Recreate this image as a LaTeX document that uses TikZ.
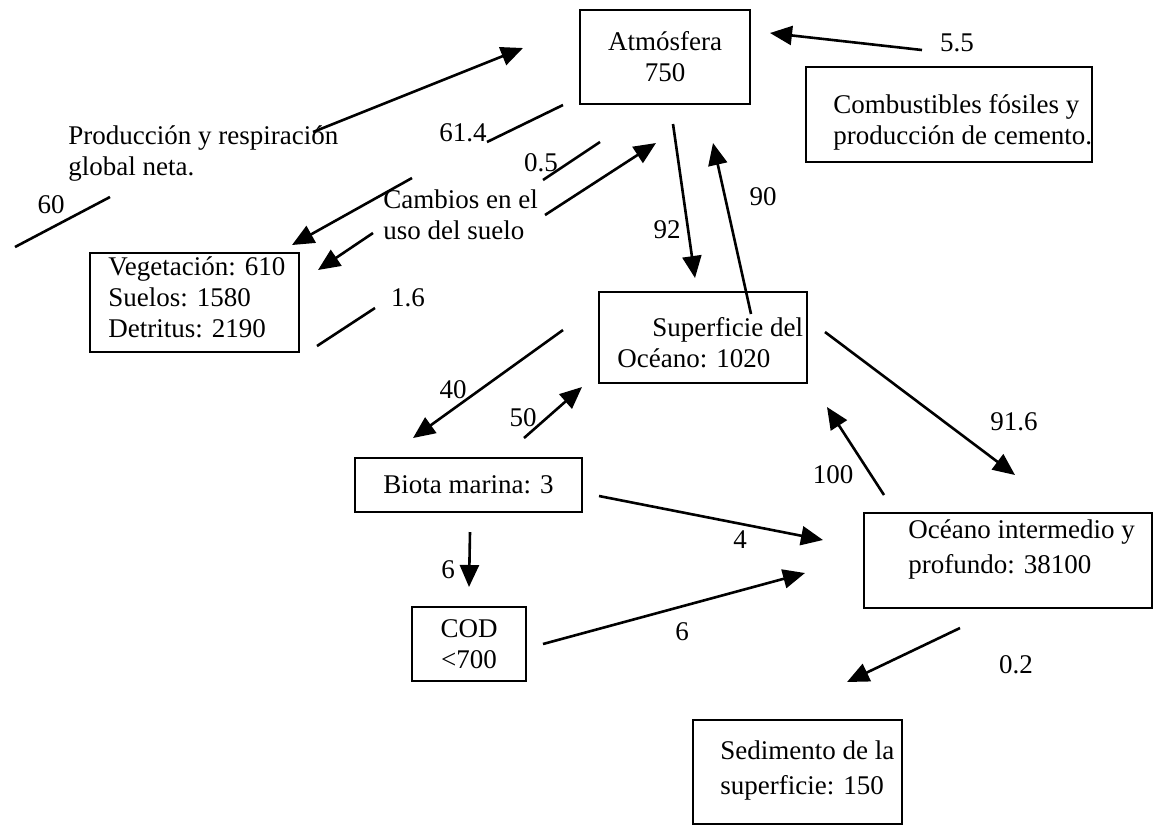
\documentclass[tikz,border=0pt]{standalone}
\usepackage{fontspec}
\setmainfont{Liberation Serif}
\usetikzlibrary{arrows.meta}

\begin{document}
\begin{tikzpicture}[x=0.5pt,y=-0.5pt,>={Triangle[length=11pt,width=9.5pt]},
	every node/.style={font=\fontsize{13.5}{15.5}\selectfont},
	box/.style={draw,line width=1.1pt,inner sep=0pt},
	txt/.style={inner sep=0pt,align=left,anchor=west},
	num/.style={inner sep=0pt},
	flow/.style={->,line width=1.3pt},
	tick/.style={line width=1.3pt}]

\useasboundingbox (0,0) rectangle (1155,827);

\node[box,minimum width=85pt,minimum height=47pt,align=center] (atm) at (665,57) {Atmósfera\\750};
\node[box,minimum width=143pt,minimum height=47.5pt] (fos) at (949,114.5) {};
\node[txt] (fos-t) at (833,122) {Combustibles fósiles y\\producción de cemento.};
\node[box,minimum width=104.5pt,minimum height=49.5pt] (veg) at (194.5,302.5) {};
\node[txt] (veg-t) at (108,297) {Vegetación: 610\\Suelos: 1580\\Detritus: 2190};
\node[box,minimum width=104pt,minimum height=45.5pt] (sup) at (703,337.5) {};
\node[txt] (sup-t) at (617,342.5) {\hspace*{17.5pt}Superficie del\\Océano: 1020};
\node[box,minimum width=113.5pt,minimum height=27pt] (bio) at (468.5,485) {Biota marina: 3};
\node[box,minimum width=57pt,minimum height=37pt,align=center] (cod) at (469,644) {COD\\<700};
\node[box,minimum width=144pt,minimum height=47.5pt] (deep) at (1008,560.5) {};
\node[txt] (deep-t) at (908,549.5) {Océano intermedio y\\[2pt]profundo: 38100};
\node[box,minimum width=104.5pt,minimum height=52pt] (sed) at (797.5,772) {};
\node[txt] (sed-t) at (720,770.5) {Sedimento de la\\[2pt]superficie: 150};

\node[txt] (prod) at (68,154) {Producción y respiración\\global neta.};
\node[txt] (uso) at (383,215) {Cambios en el\\uso del suelo};

\node[num] (n60) at (51,205) {60};
\node[num] (n614) at (463,133) {61.4};
\node[num] (n05) at (541,163) {0.5};
\node[num] (n16) at (408,298) {1.6};
\node[num] (n55) at (957,43) {5.5};
\node[num] (n92) at (667,230) {92};
\node[num] (n90) at (763,197) {90};
\node[num] (n40) at (453,390) {40};
\node[num] (n50) at (523,418) {50};
\node[num] (n916) at (1014,422) {91.6};
\node[num] (n100) at (833,475) {100};
\node[num] (n4) at (740,540) {4};
\node[num] (n6a) at (448,570) {6};
\node[num] (n6b) at (682,632) {6};
\node[num] (n02) at (1016,665) {0.2};

\coordinate (prodA) at (313,132); \coordinate (prodB) at (523,48);
\coordinate (t60A) at (15,247); \coordinate (t60B) at (110,197);
\coordinate (vegA) at (412,178); \coordinate (vegB) at (292,245);
\coordinate (t614A) at (487,142); \coordinate (t614B) at (563,105);
\coordinate (t05A) at (543,180); \coordinate (t05B) at (600,142);
\coordinate (usoA) at (545,215); \coordinate (usoB) at (656,143);
\coordinate (suelA) at (373,233); \coordinate (suelB) at (318,270);
\coordinate (t16A) at (317,346); \coordinate (t16B) at (375,308);
\coordinate (fosA) at (922,50); \coordinate (fosB) at (770,33);
\coordinate (dnA) at (673,124); \coordinate (dnB) at (695,278);
\coordinate (upA) at (751,314); \coordinate (upB) at (713,143);
\coordinate (bioA) at (563,330); \coordinate (bioB) at (413,438);
\coordinate (bioC) at (524,438); \coordinate (bioD) at (582,387);
\coordinate (deepA) at (825,332); \coordinate (deepB) at (1015,475);
\coordinate (deepC) at (884,495); \coordinate (deepD) at (827,407);
\coordinate (f4A) at (599,496); \coordinate (f4B) at (823,540);
\coordinate (codA) at (470,532); \coordinate (codB) at (469,587);
\coordinate (codC) at (543,644); \coordinate (codD) at (805,573);
\coordinate (sedA) at (960,628); \coordinate (sedB) at (847,682);

\draw[flow] (prodA) -- (prodB);
\draw[tick] (t60A) -- (t60B);
\draw[flow] (vegA) -- (vegB);
\draw[tick] (t614A) -- (t614B);
\draw[tick] (t05A) -- (t05B);
\draw[flow] (usoA) -- (usoB);
\draw[flow] (suelA) -- (suelB);
\draw[tick] (t16A) -- (t16B);
\draw[flow] (fosA) -- (fosB);
\draw[flow] (dnA) -- (dnB);
\draw[flow] (upA) -- (upB);
\draw[flow] (bioA) -- (bioB);
\draw[flow] (bioC) -- (bioD);
\draw[flow] (deepA) -- (deepB);
\draw[flow] (deepC) -- (deepD);
\draw[flow] (f4A) -- (f4B);
\draw[flow] (codA) -- (codB);
\draw[flow] (codC) -- (codD);
\draw[flow] (sedA) -- (sedB);

\end{tikzpicture}
\end{document}
